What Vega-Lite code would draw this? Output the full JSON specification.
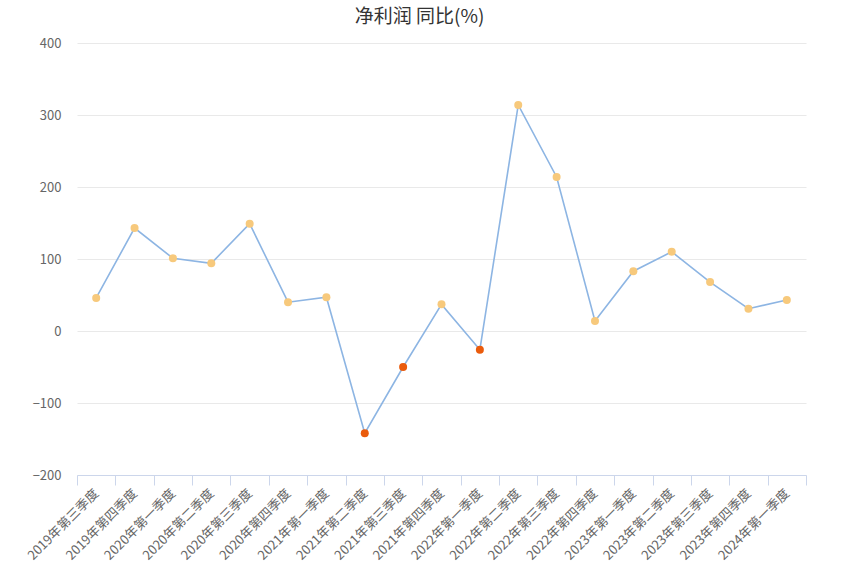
{
  "$schema": "https://vega.github.io/schema/vega-lite/v6.json",
  "width": 729,
  "height": 432,
  "autosize": "none",
  "padding": {"left": 77, "top": 43, "right": 35, "bottom": 101},
  "background": "white",
  "title": {
    "text": "净利润 同比(%)",
    "font": "Noto Sans CJK SC",
    "fontSize": 19,
    "fontWeight": "normal",
    "color": "#333333",
    "offset": 10,
    "dx": -22
  },
  "config": {
    "view": {"stroke": null},
    "axis": {
      "labelFont": "Noto Sans CJK SC",
      "labelColor": "#666666",
      "labelFontSize": 13,
      "titleFont": "Noto Sans CJK SC"
    }
  },
  "data": {
    "values": [
      {"q": "2019年第三季度", "v": 46},
      {"q": "2019年第四季度", "v": 143},
      {"q": "2020年第一季度", "v": 101},
      {"q": "2020年第二季度", "v": 94},
      {"q": "2020年第三季度", "v": 149},
      {"q": "2020年第四季度", "v": 40},
      {"q": "2021年第一季度", "v": 47},
      {"q": "2021年第二季度", "v": -142},
      {"q": "2021年第三季度", "v": -50},
      {"q": "2021年第四季度", "v": 37},
      {"q": "2022年第一季度", "v": -26},
      {"q": "2022年第二季度", "v": 314},
      {"q": "2022年第三季度", "v": 214},
      {"q": "2022年第四季度", "v": 14},
      {"q": "2023年第一季度", "v": 83},
      {"q": "2023年第二季度", "v": 110},
      {"q": "2023年第三季度", "v": 68},
      {"q": "2023年第四季度", "v": 31},
      {"q": "2024年第一季度", "v": 43}
    ]
  },
  "encoding": {
    "x": {
      "field": "q",
      "type": "nominal",
      "sort": null,
      "scale": {"paddingInner": 0, "paddingOuter": 0},
      "axis": {
        "title": null,
        "labelAngle": -45,
        "labelAlign": "right",
        "labelBaseline": "middle",
        "labelPadding": 6,
        "tickBand": "extent",
        "domainColor": "#ccd6eb",
        "tickColor": "#ccd6eb",
        "tickSize": 10,
        "grid": false
      }
    },
    "y": {
      "field": "v",
      "type": "quantitative",
      "scale": {"domain": [-200, 400], "nice": false},
      "axis": {
        "title": null,
        "values": [-200, -100, 0, 100, 200, 300, 400],
        "domain": false,
        "ticks": false,
        "labelPadding": 16,
        "gridColor": "#e9e9e9",
        "gridWidth": 1
      }
    }
  },
  "layer": [
    {
      "mark": {"type": "line", "color": "#8db5e3", "strokeWidth": 1.6}
    },
    {
      "mark": {"type": "point", "filled": true, "size": 64, "opacity": 1},
      "encoding": {
        "color": {
          "condition": {"test": "datum.v < 0", "value": "#ea5b0c"},
          "value": "#f7c97c"
        }
      }
    }
  ]
}
